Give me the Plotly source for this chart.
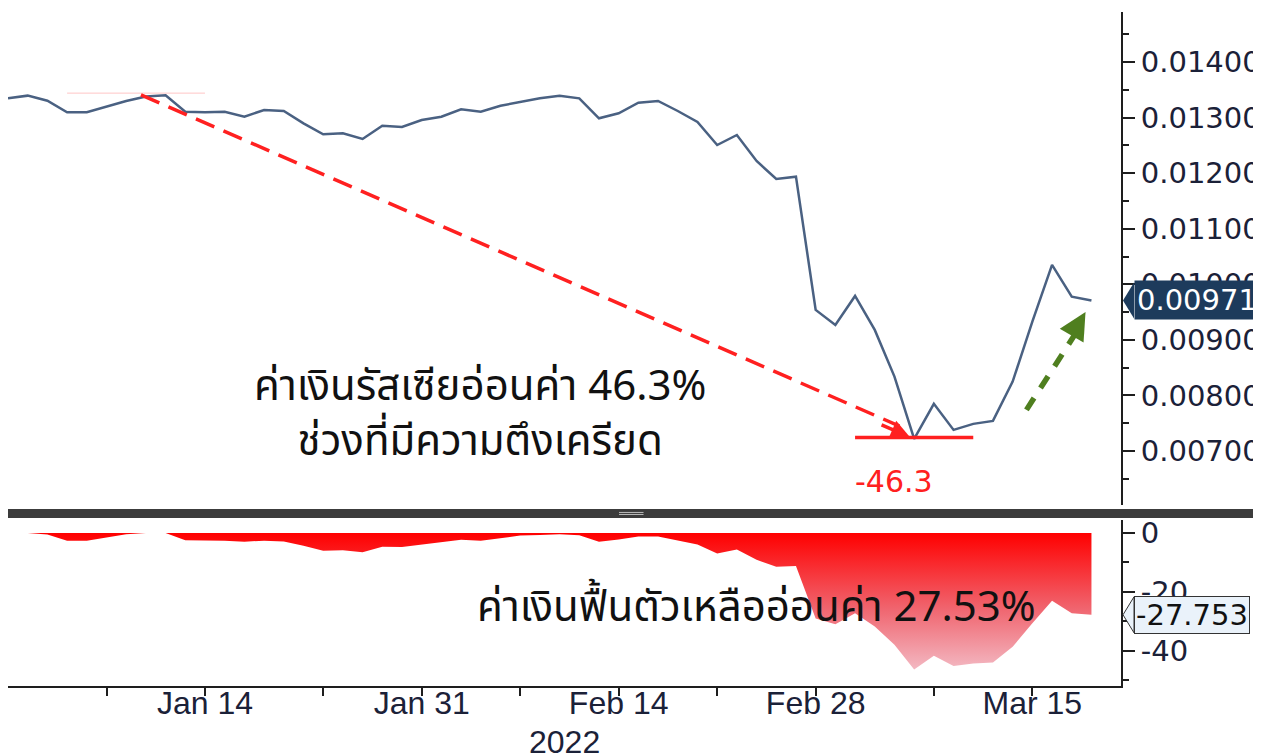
import plotly.graph_objects as go
import pandas as pd

# ---------------- data ----------------
dates = list(pd.bdate_range("2021-12-31", "2022-03-18"))  # trading days

rub_usd = [
    0.013347, 0.013395, 0.013304, 0.013095, 0.013095, 0.013196, 0.013299, 0.013380, 0.013400, 0.013106,
    0.013095, 0.013106, 0.013016, 0.013137, 0.013119, 0.012897, 0.012700, 0.012718, 0.012615, 0.012854,
    0.012831, 0.012957, 0.013016, 0.013149, 0.013106, 0.013214, 0.013286, 0.013347, 0.013395, 0.013347,
    0.012987, 0.013077, 0.013268, 0.013299, 0.013119, 0.012921, 0.012507, 0.012687, 0.012219, 0.011896,
    0.011937, 0.009540, 0.009270, 0.009791, 0.009180, 0.008340, 0.007220, 0.007849, 0.007381, 0.007489,
    0.007543, 0.008250, 0.009329, 0.010349, 0.009779, 0.009710,
]

drawdown_pct = [
    0.0, 0.0, -0.5, -2.6, -2.6, -1.4, -0.4, 0.0, 0.0, -2.5,
    -2.6, -2.6, -3.0, -2.6, -2.9, -4.3, -6.0, -5.9, -6.5, -4.7,
    -4.8, -4.0, -3.2, -2.3, -2.6, -1.7, -0.9, -0.7, -0.4, -0.8,
    -3.0, -2.2, -1.2, -1.2, -2.6, -3.9, -7.0, -5.6, -9.1, -11.5,
    -11.2, -29.0, -31.0, -27.2, -31.7, -37.9, -46.3, -41.6, -45.1, -44.3,
    -43.9, -38.6, -30.6, -23.0, -27.2, -27.753,
]

tick_dates = ["2022-01-07", "2022-01-14", "2022-01-24", "2022-01-31", "2022-02-07",
              "2022-02-14", "2022-02-21", "2022-02-28", "2022-03-08", "2022-03-15"]
tick_labels = ["", "Jan 14", "", "Jan 31", "", "Feb 14", "", "Feb 28", "", "Mar 15"]

last_price = 0.00971
last_price_label = "0.00971"
last_dd = -27.753
last_dd_label = "-27.753"
trough_pct = -46.3
trough_level = 0.007245
peak_level = 0.01344

text_fall = "ค่าเงินรัสเซียอ่อนค่า 46.3%<br>ช่วงที่มีความตึงเครียด"
text_recover = "ค่าเงินฟื้นตัวเหลืออ่อนค่า 27.53%"
year_label = "2022"

# ---------------- styles ----------------
AX = "#1e1e1e"
LBL = "#1b2138"
NUMFONT = "DejaVu Sans, Verdana, sans-serif"
TICKFONT = dict(family=NUMFONT, size=29, color=LBL)
XFONT = dict(family="Liberation Sans, Arial, sans-serif", size=32, color=LBL)
THAI = "Noto Sans Thai, Noto Sans Thai Looped, Loma, Garuda, Noto Sans, sans-serif"
RED = "#ff2020"
GREEN = "#4f7f1f"

fig = go.Figure()

fig.add_trace(go.Scatter(
    x=dates, y=rub_usd, xaxis="x2", yaxis="y2", mode="lines",
    line=dict(color="#4a6182", width=2.5), hoverinfo="skip", showlegend=False))

fig.add_trace(go.Scatter(
    x=dates, y=drawdown_pct, xaxis="x", yaxis="y", mode="lines",
    fill="tozeroy",
    fillgradient=dict(type="vertical", start=-46.3, stop=0,
                      colorscale=[[0, "#f3b8c2"], [0.45, "#f0646e"], [1, "#ff0000"]]),
    line=dict(width=0, color="rgba(255,0,0,0)"), hoverinfo="skip", showlegend=False))

xrange = ["2021-12-31", "2022-03-21 12:00"]
rb = [dict(bounds=["sat", "mon"])]

fig.update_layout(
    width=1253, height=746,
    margin=dict(l=0, r=134, t=4, b=68),
    paper_bgcolor="white", plot_bgcolor="white",
    showlegend=False,
    xaxis=dict(type="date", range=xrange, rangebreaks=rb, domain=[0, 1], anchor="y",
               showline=True, linecolor=AX, linewidth=2, showgrid=False, zeroline=False,
               ticks="outside", ticklen=8, tickwidth=2, tickcolor=AX,
               tickvals=tick_dates, ticktext=tick_labels, tickfont=XFONT,
               ticklabelstandoff=-20),
    xaxis2=dict(type="date", range=xrange, rangebreaks=rb, matches="x", anchor="y2",
                showline=False, showgrid=False, zeroline=False, showticklabels=False, ticks=""),
    yaxis=dict(domain=[0, 0.2463], range=[-51.9, 4.4], side="right", anchor="x",
               showline=True, linecolor=AX, linewidth=2, showgrid=False, zeroline=False,
               tickvals=[0, -20, -40], ticktext=["0", "-20", "-40"],
               ticks="outside", ticklen=12, tickwidth=2, tickcolor=AX, tickfont=TICKFONT,
               minor=dict(tickvals=[-10, -30, -50], ticks="outside", ticklen=6, tickwidth=2, tickcolor=AX)),
    yaxis2=dict(domain=[0.2686, 1], range=[0.00603, 0.0149], side="right", anchor="x2",
                showline=True, linecolor=AX, linewidth=2, showgrid=False, zeroline=False,
                tickmode="linear", tick0=0, dtick=0.001, tickformat=".5f",
                ticks="outside", ticklen=12, tickwidth=2, tickcolor=AX, tickfont=TICKFONT,
                minor=dict(dtick=0.0005, tick0=0, ticks="outside", ticklen=6, tickwidth=2, tickcolor=AX)),
)

shapes = []
# divider bar between panels
shapes.append(dict(type="rect", xref="paper", yref="paper", x0=0, x1=1.121, y0=0.2493, y1=0.2626,
                   fillcolor="#3c3c3c", line=dict(width=0)))
for yy in (0.2545, 0.2575):
    shapes.append(dict(type="line", xref="paper", yref="paper", x0=0.549, x1=0.571, y0=yy, y1=yy,
                       line=dict(color="#bdbdbd", width=1)))
# faint peak marker
shapes.append(dict(type="line", xref="x2", yref="y2", x0="2022-01-05", x1="2022-01-14",
                   y0=peak_level, y1=peak_level, line=dict(color="rgba(255,90,90,0.35)", width=1)))
# red dashed arrow shaft
shapes.append(dict(type="line", xref="x2", yref="y2", x0="2022-01-10 18:00", y0=0.01341,
                   x1="2022-03-04 06:00", y1=0.007450, line=dict(color=RED, width=3.5, dash="20px,10px")))
# trough horizontal marker
shapes.append(dict(type="line", xref="x2", yref="y2", x0="2022-03-02", x1="2022-03-10",
                   y0=trough_level, y1=trough_level, line=dict(color=RED, width=3.5)))
# green dashed arrow shaft
shapes.append(dict(type="line", xref="x2", yref="y2", x0="2022-03-14 16:48", y0=0.007741,
                   x1="2022-03-17 04:00", y1=0.009100, line=dict(color=GREEN, width=5.5, dash="14px,12px")))
# value-tag pointer tips
shapes.append(dict(type="path", xref="paper", yref="y2", xsizemode="pixel", xanchor=1,
                   ysizemode="pixel", yanchor=last_price,
                   path="M 2,0 L 13,18 L 13,-18 Z", fillcolor="#1d3b5c", line=dict(width=0)))
shapes.append(dict(type="path", xref="paper", yref="y", xsizemode="pixel", xanchor=1,
                   ysizemode="pixel", yanchor=last_dd,
                   path="M 2,0 L 13,18 L 13,-18 Z", fillcolor="#eaf2fa", line=dict(color="#333", width=1)))
fig.update_layout(shapes=shapes)

ann = []
# red arrow head
ann.append(dict(xref="x2", yref="y2", x="2022-03-04 19:00", y=0.00725, ax=-30, ay=-13,
                showarrow=True, arrowhead=2, arrowsize=1.1, arrowwidth=3.5, arrowcolor=RED, text=""))
# green arrow head
ann.append(dict(xref="x2", yref="y2", x="2022-03-17 16:48", y=0.009504, ax=-14, ay=24,
                showarrow=True, arrowhead=2, arrowsize=1.0, arrowwidth=5.5, arrowcolor=GREEN, text=""))
# texts
ann.append(dict(xref="x2", yref="y2", x="2022-02-03", y=0.00765, text=text_fall, showarrow=False,
                font=dict(family=THAI, size=42, color="#111"), align="center"))
ann.append(dict(xref="x", yref="y", x="2022-02-23", y=-25.4, text=text_recover, showarrow=False,
                font=dict(family=THAI, size=42, color="#111"), align="center"))
ann.append(dict(xref="x2", yref="y2", x="2022-03-04", y=0.00645, text=f"{trough_pct}", showarrow=False,
                font=dict(family=NUMFONT, size=30, color=RED)))
ann.append(dict(xref="x", yref="paper", x="2022-02-09 06:00", y=-0.083, text=year_label, showarrow=False,
                font=XFONT, yanchor="middle"))
# value tags
ann.append(dict(xref="paper", yref="y2", x=1, xshift=13, y=last_price, xanchor="left", yanchor="middle",
                text=last_price_label, showarrow=False, bgcolor="#1d3b5c", borderpad=2,
                font=dict(family=NUMFONT, size=29, color="white")))
ann.append(dict(xref="paper", yref="y", x=1, xshift=13, y=last_dd, xanchor="left", yanchor="middle",
                text=last_dd_label, showarrow=False, bgcolor="#eaf2fa", bordercolor="#333", borderwidth=1,
                borderpad=1, font=dict(family=NUMFONT, size=29, color="#111")))
fig.update_layout(annotations=ann)

fig.write_html("out.html")
